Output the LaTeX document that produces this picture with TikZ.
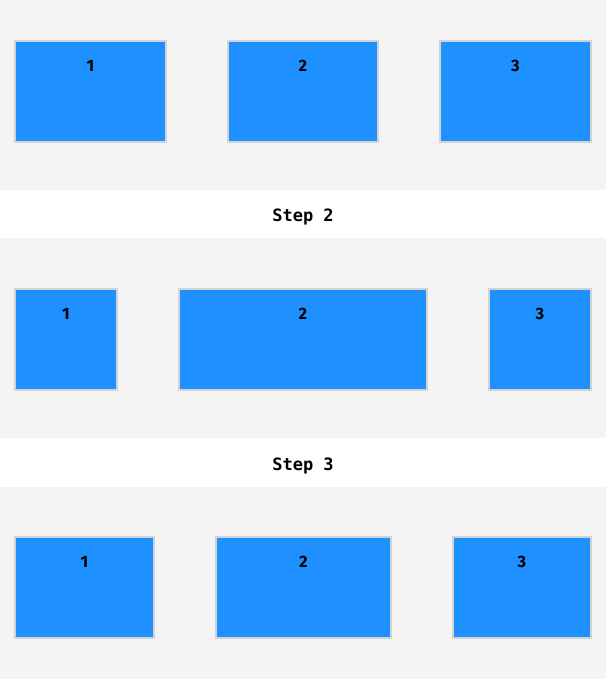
\documentclass[tikz,border=0pt]{standalone}
\usepackage{fontspec}
\setmainfont{Fira Sans}
\setmonofont{DejaVu Sans Mono}
\usepackage{xcolor}
\usetikzlibrary{positioning}

\definecolor{panelgray}{HTML}{F4F4F4}
\definecolor{boxblue}{HTML}{1E90FF}
\definecolor{boxedge}{HTML}{D3D3D3}

\tikzset{
    itembox/.style={draw=boxedge, fill=boxblue, line width=2pt, inner sep=0pt, outer sep=0pt, anchor=north west},
    numlabel/.style={font=\fontsize{16.5}{16}\selectfont\bfseries, text=black},
    steplabel/.style={font=\fontsize{17}{17}\selectfont\ttfamily\bfseries, text=black}
}

\begin{document}
\begin{tikzpicture}[x=1pt, y=-1pt]
        \useasboundingbox (0,0) rectangle (606,679);
        % panels
        \fill[panelgray] (0,0) rectangle (606,190);
        \fill[panelgray] (0,238) rectangle (606,438);
        \fill[panelgray] (0,487) rectangle (606,679);
        \node[steplabel] (step2) at (303,216.5) {Step 2};
        \node[steplabel] (step3) at (303,465.5) {Step 3};

        % boxes: row / top / left and right of each
        \foreach \r/\t/\la/\ra/\lb/\rb/\lc/\rc in {1/41/15/166/228/378/440/591, 2/289/15/117/179/427/489/591, 3/537/15/154/216/391/453/591} {
            \node[itembox, minimum width=\ra-\la, minimum height=101] (r\r a) at (\la,\t) {};
            \node[itembox, minimum width=\rb-\lb, minimum height=101] (r\r b) at (\lb,\t) {};
            \node[itembox, minimum width=\rc-\lc, minimum height=101] (r\r c) at (\lc,\t) {};
            \node[numlabel, yshift=-25pt] (n\r a) at (r\r a.north) {1};
            \node[numlabel, yshift=-25pt] (n\r b) at (r\r b.north) {2};
            \node[numlabel, yshift=-25pt] (n\r c) at (r\r c.north) {3};
        }
    \end{tikzpicture}
\end{document}
